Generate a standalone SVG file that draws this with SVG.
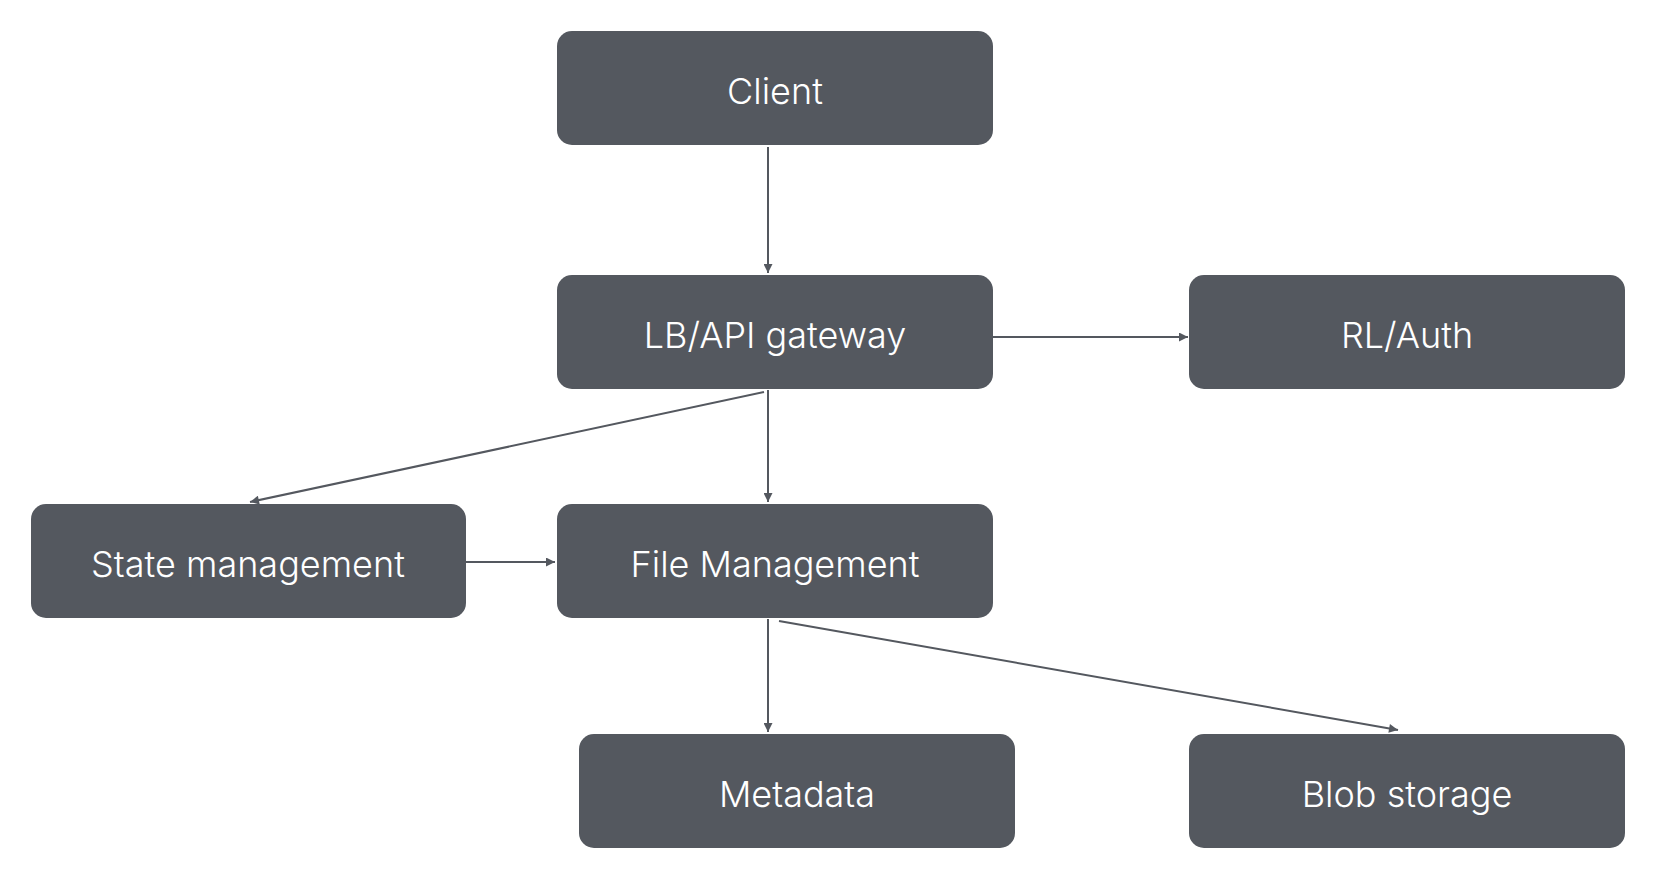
<svg xmlns="http://www.w3.org/2000/svg" width="1674" height="890" viewBox="0 0 1674 890">
<defs>
<style>
.box{fill:#54585f;}
.lbl{fill:#ffffff;font-family:Inter,"Open Sans",sans-serif;font-weight:300;font-size:36px;text-anchor:middle;dominant-baseline:central;}
.edge{stroke:#54585f;stroke-width:2;fill:none;marker-end:url(#arr);}
</style>
<marker id="arr" viewBox="0 0 10 10" refX="10" refY="5" markerWidth="10" markerHeight="9" markerUnits="userSpaceOnUse" orient="auto">
<path d="M0,0 L10,5 L0,10 z" fill="#54585f"/>
</marker>
</defs>
<rect width="1674" height="890" fill="#ffffff"/>
<g id="connectors">
<line class="edge" x1="768" y1="147" x2="768" y2="273"/>
<line class="edge" x1="993" y1="337" x2="1188" y2="337"/>
<line class="edge" x1="764" y1="392" x2="250" y2="502"/>
<line class="edge" x1="768" y1="390" x2="768" y2="502"/>
<line class="edge" x1="466" y1="562" x2="555" y2="562"/>
<line class="edge" x1="768" y1="619" x2="768" y2="732"/>
<line class="edge" x1="779" y1="621" x2="1398" y2="730"/>
</g>
<g id="client"><rect class="box" x="557" y="31" width="436" height="114" rx="15"/><text class="lbl" x="775" y="91">Client</text></g>
<g id="gateway"><rect class="box" x="557" y="275" width="436" height="114" rx="15"/><text class="lbl" x="775" y="335">LB/API gateway</text></g>
<g id="rlauth"><rect class="box" x="1189" y="275" width="436" height="114" rx="15"/><text class="lbl" x="1407" y="335">RL/Auth</text></g>
<g id="state"><rect class="box" x="31" y="504" width="435" height="114" rx="15"/><text class="lbl" x="248" y="564">State management</text></g>
<g id="file"><rect class="box" x="557" y="504" width="436" height="114" rx="15"/><text class="lbl" x="775" y="564">File Management</text></g>
<g id="metadata"><rect class="box" x="579" y="734" width="436" height="114" rx="15"/><text class="lbl" x="797" y="794">Metadata</text></g>
<g id="blob"><rect class="box" x="1189" y="734" width="436" height="114" rx="15"/><text class="lbl" x="1407" y="794">Blob storage</text></g>
</svg>
